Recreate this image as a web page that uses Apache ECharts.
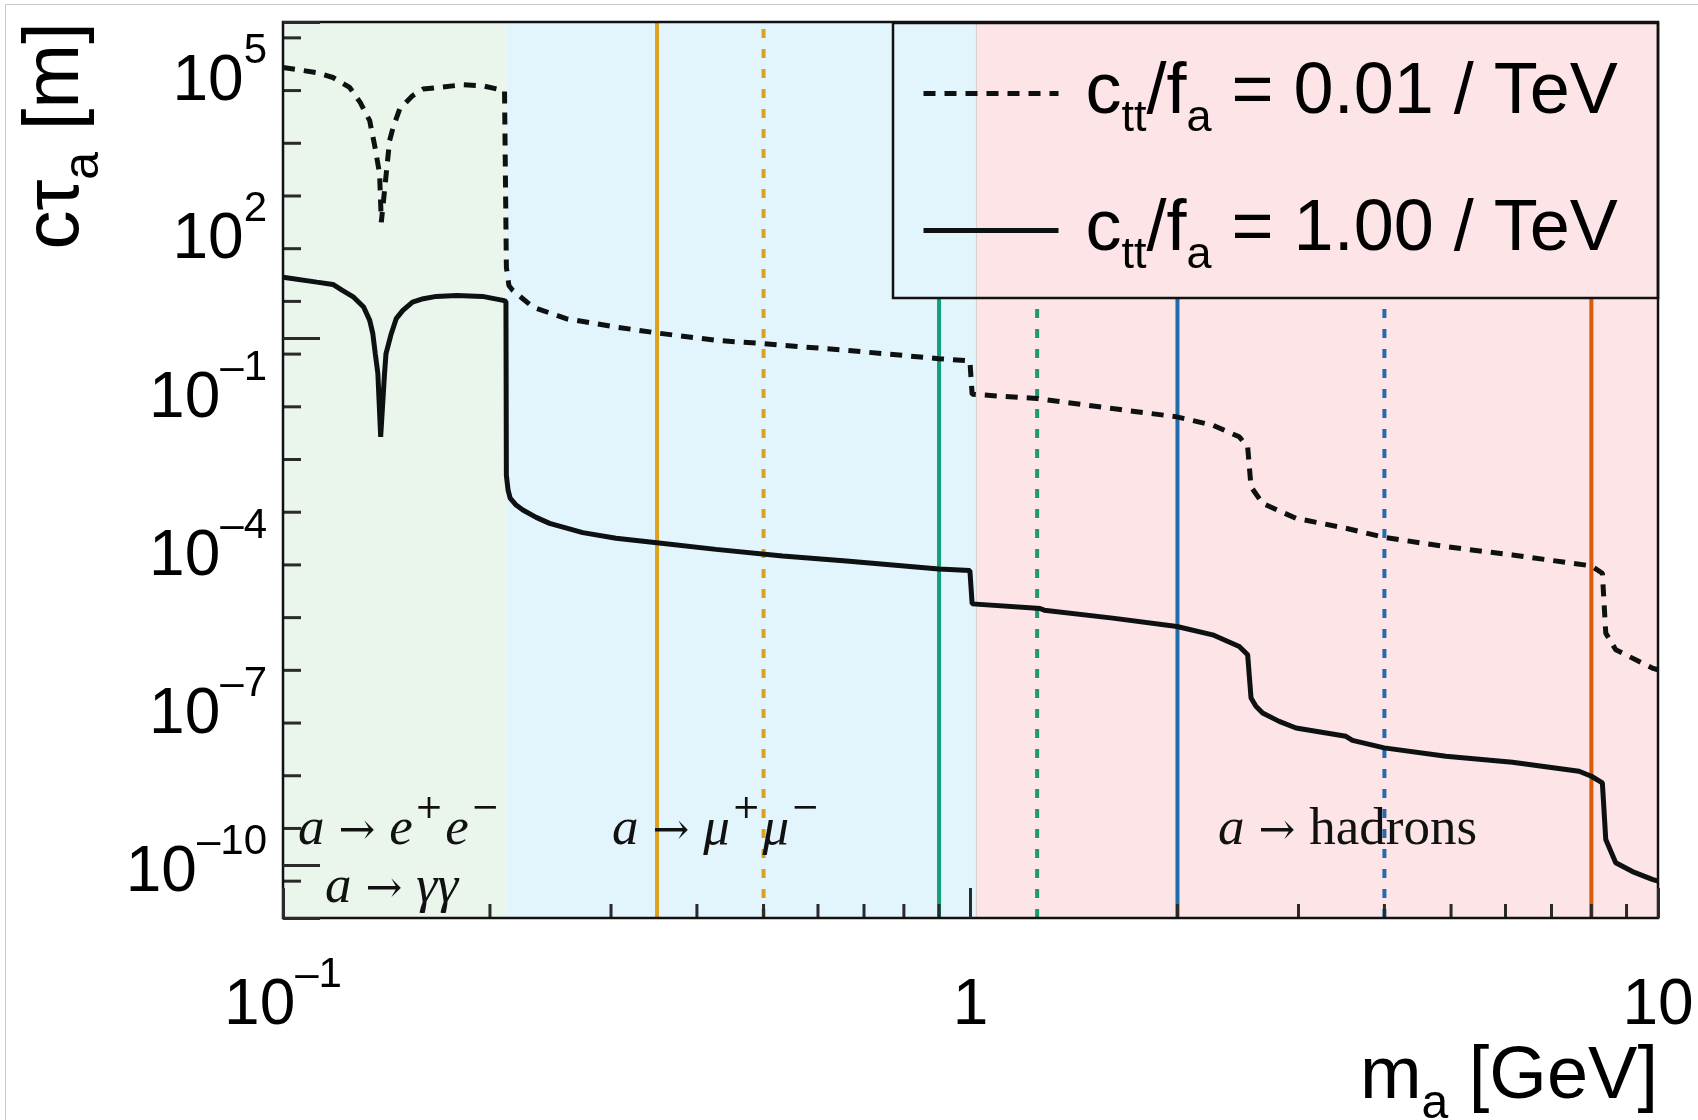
<!DOCTYPE html>
<html>
<head>
<meta charset="utf-8">
<title>Axion-like particle decay length</title>
<script src="https://cdn.jsdelivr.net/npm/echarts@6/dist/echarts.min.js"></script>
<style>
  html, body { margin: 0; padding: 0; background: #fff; }
  #wrap { position: relative; width: 1698px; height: 1120px; }
  #chart { position: absolute; left: 0; top: 0; width: 1698px; height: 1120px; }
  #edge { position: absolute; left: 5px; top: 4px; right: 0; bottom: 0;
          border-left: 1.5px solid #cacaca; border-top: 1.5px solid #cacaca; pointer-events: none; }
</style>
</head>
<body>
<div id="wrap"><div id="chart"></div><div id="edge"></div></div>
<script>
const SANS = "'Liberation Sans', Arial, Helvetica, sans-serif";
const SERIF = "'Liberation Serif', 'DejaVu Serif', serif";

// c*tau_a [m] versus m_a [GeV] for c_tt/f_a = 1.00 / TeV
const massSolid = [0.100, 0.112, 0.1182, 0.122, 0.1267, 0.131, 0.1337, 0.1351, 0.1362, 0.1374, 0.1387,
  0.1405, 0.1412, 0.1437, 0.1461, 0.1494, 0.1543, 0.160, 0.1671, 0.179, 0.195, 0.209, 0.2110,
  0.2113, 0.2125, 0.2140, 0.2183, 0.2233, 0.2335, 0.2442, 0.2729, 0.3051, 0.3497, 0.4264, 0.5329,
  0.6598, 0.8994, 0.998, 1.0055, 1.249, 1.262, 1.280, 1.610, 1.997, 2.250, 2.460, 2.530, 2.559,
  2.601, 2.660, 2.812, 2.975, 3.516, 3.594, 3.997, 4.914, 6.141, 7.677, 8.00, 8.30, 8.395, 8.68,
  9.18, 9.81, 10.0];
const ctauSolid = [14.4, 11.6, 10.5, 8.07, 6.0, 3.90, 2.18, 1.22, 0.513, 0.214, 0.0135,
  0.214, 0.513, 1.22, 2.35, 3.37, 4.85, 5.62, 6.22, 6.50, 6.22, 5.22, 5.0,
  2.5e-3, 1.32e-3, 9.3e-4, 6.84e-4, 5.51e-4, 3.99e-4, 3.07e-4, 2.05e-4, 1.60e-4, 1.32e-4, 9.86e-5, 7.40e-5,
  5.96e-5, 4.20e-5, 3.90e-5, 9.12e-6, 7.57e-6, 7.45e-6, 6.92e-6, 4.89e-6, 3.39e-6, 2.36e-6, 1.42e-6, 9.86e-7, 1.49e-7,
  1.04e-7, 7.74e-8, 5.38e-8, 4.03e-8, 2.80e-8, 2.35e-8, 1.69e-8, 1.17e-8, 9.02e-9, 6.08e-9, 4.89e-9, 3.66e-9, 3.09e-10, 1.12e-10,
  7.6e-11, 5.41e-11, 5.0e-11];

// c*tau_a [m] versus m_a [GeV] for c_tt/f_a = 0.01 / TeV
const massDashed = [0.100, 0.1118, 0.1182, 0.1250, 0.1295, 0.1337, 0.1361, 0.1382, 0.1390, 0.1429,
  0.1446, 0.1478, 0.1543, 0.1598, 0.1826, 0.1953, 0.2100, 0.2111, 0.2113, 0.2131, 0.2159, 0.2309,
  0.2581, 0.3051, 0.3497, 0.4264, 0.4996, 0.5329, 0.6598, 0.8994, 0.998, 1.0055, 1.249, 1.610,
  1.997, 2.250, 2.460, 2.530, 2.559, 2.660, 2.975, 3.516, 3.997, 4.914, 6.141, 8.00, 8.30, 8.395,
  8.68, 9.81, 10.0];
const ctauDashed = [1.37e5, 1.10e5, 8.85e4, 5.73e4, 2.98e4, 1.34e4, 4.18e3, 1.31e3, 159, 5.60e3,
  1.0e4, 2.23e4, 3.98e4, 5.33e4, 6.44e4, 6.17e4, 4.95e4, 4.79e4, 22.4, 10.0, 8.07, 3.90,
  2.35, 1.63, 1.26, 0.912, 0.791, 0.735, 0.590, 0.410, 0.370, 0.0865, 0.0718, 0.0463,
  0.0322, 0.0224, 0.0135, 8.71e-3, 1.52e-3, 7.36e-4, 3.83e-4, 2.48e-4, 1.67e-4, 1.11e-4, 7.73e-5, 4.79e-5, 3.48e-5, 2.54e-6,
  1.23e-6, 5.52e-7, 5.13e-7];

const couplingLabels = ['0.01', '1.00'];

// reference masses shown as vertical lines [GeV]
const thresholdMass = [0.35, 0.5, 0.9, 1.25, 2.0, 4.0, 8.0];
const thresholdUnderLegend = [false, false, true, true, true, true, true];

// decay regimes: a -> e+e-/γγ, a -> μ+μ-, a -> hadrons
const regionEdges = [0.1, 0.2113, 1.02, 10];

const yMin = 1e-11, yMax = 1e6;
const legendBottom = 5.7;
const yLabelValues = [1e5, 1e2, 1e-1, 1e-4, 1e-7, 1e-10];
const yLabelText = ['{b|10}{s|5}', '{b|10}{s|2}', '{b|10}{s|\u20131}', '{b|10}{s|\u20134}',
  '{b|10}{s|\u20137}', '{b|10}{s|\u201310}'];
const yMinorTicks = [5e-11, 5e-10, 5e-9, 5e-8, 5e-7, 5e-6, 5e-5, 5e-4, 5e-3, 5e-2, 5e-1,
  5, 50, 500, 5e3, 5e4, 5e5];
const xMinorTicks = [0.2, 0.3, 0.4, 0.5, 0.6, 0.7, 0.8, 0.9, 2, 3, 4, 5, 6, 7, 8, 9];
const xTickValues = [0.1, 1, 10];
const xTickText = ['{b|10}{s|\u20131}', '{b|1}', '{b|10}'];

// styling
const thresholdColor = ['#DBA21F', '#DBA21F', '#13A07A', '#1A9A6E', '#1F6DAA', '#1F6DAA', '#D95B0B'];
const thresholdDashed = [false, true, false, true, false, true, false];
const regionColors = ['#EAF5EB', '#E3F5FC', '#FCE4E7'];
const INK = '#0d1111';

const chart = echarts.init(document.getElementById('chart'), null, { renderer: 'canvas' });

const tickRich = {
  b: { fontFamily: SANS, fontSize: 64, lineHeight: 64, color: '#000', padding: [20, 0, 0, 0], verticalAlign: 'top' },
  s: { fontFamily: SANS, fontSize: 42, lineHeight: 42, color: '#000', verticalAlign: 'top' }
};
const tickRichFill = {
  b: { fontFamily: SANS, fontSize: 64, lineHeight: 64, fill: '#000', padding: [20, 0, 0, 0], verticalAlign: 'top' },
  s: { fontFamily: SANS, fontSize: 42, lineHeight: 42, fill: '#000', verticalAlign: 'top' }
};

const legendRich = {
  m: { fontFamily: SANS, fontSize: 72, lineHeight: 72, color: '#000', verticalAlign: 'middle' },
  sb: { fontFamily: SANS, fontSize: 45, lineHeight: 45, color: '#000', padding: [50, 0, 0, 0], verticalAlign: 'middle' }
};

const annRich = {
  i: { fontFamily: SERIF, fontStyle: 'italic', fontSize: 53, lineHeight: 53, padding: [11, 0, 0, 0], verticalAlign: 'top', fill: '#111' },
  n: { fontFamily: SERIF, fontSize: 53, lineHeight: 53, padding: [11, 0, 0, 0], verticalAlign: 'top', fill: '#111' },
  r: { fontFamily: "'DejaVu Serif', serif", fontSize: 44, lineHeight: 44, padding: [18, 0, 0, 0], verticalAlign: 'top', fill: '#111' },
  p: { fontFamily: "'DejaVu Serif', serif", fontSize: 34, lineHeight: 34, padding: [0, 2, 0, 2], verticalAlign: 'top', fill: '#111' }
};

const curveNames = couplingLabels.map(v => 'c_tt/f_a = ' + v + ' / TeV');

function toPairs(xs, ys) { return xs.map((x, i) => [x, ys[i]]); }

const series = [];

// shaded decay regimes
series.push({
  type: 'line', name: 'regions', data: [], z: 1, silent: true,
  markArea: {
    silent: true,
    data: regionColors.map((c, i) => [
      { xAxis: regionEdges[i], itemStyle: i === 2 ? { color: c, borderColor: 'rgba(150,150,150,0.35)', borderWidth: 1 } : { color: c } },
      { xAxis: regionEdges[i + 1] }
    ])
  }
});

// vertical reference lines
thresholdMass.forEach((m, i) => {
  series.push({
    type: 'line', name: 'ref' + i, z: 3, silent: true, symbol: 'none',
    data: [[m, yMin], [m, thresholdUnderLegend[i] ? legendBottom : yMax]],
    lineStyle: { color: thresholdColor[i], width: 4, type: thresholdDashed[i] ? [9, 11] : 'solid' }
  });
});

// lifetime curves
series.push({
  type: 'line', name: curveNames[0], z: 5, symbol: 'none', silent: true,
  data: toPairs(massDashed, ctauDashed),
  itemStyle: { color: INK },
  lineStyle: { color: INK, width: 5, type: [12, 9] }
});
series.push({
  type: 'line', name: curveNames[1], z: 5, symbol: 'none', silent: true,
  data: toPairs(massSolid, ctauSolid),
  itemStyle: { color: INK },
  lineStyle: { color: INK, width: 5, type: 'solid' }
});

// minor ticks on the log axes
series.push({
  type: 'custom', name: 'yminor', z: 8, silent: true,
  data: yMinorTicks.map(v => [0.1, v]),
  renderItem: (params, api) => {
    const p = api.coord([api.value(0), api.value(1)]);
    return { type: 'line', shape: { x1: p[0], y1: p[1], x2: p[0] + 18, y2: p[1] },
             style: { stroke: '#2a2a2a', lineWidth: 3 } };
  }
});
series.push({
  type: 'custom', name: 'xminor', z: 8, silent: true,
  data: xMinorTicks.map(v => [v, yMin]),
  renderItem: (params, api) => {
    const p = api.coord([api.value(0), api.value(1)]);
    return { type: 'line', shape: { x1: p[0], y1: p[1], x2: p[0], y2: p[1] - 14 },
             style: { stroke: '#2a2a2a', lineWidth: 3 } };
  }
});

// labelled decades of the lifetime axis
series.push({
  type: 'custom', name: 'ylabels', z: 8, silent: true, clip: false,
  data: yLabelValues.map(v => [0.1, v]),
  renderItem: (params, api) => {
    const p = api.coord([api.value(0), api.value(1)]);
    return { type: 'text', x: p[0] - 16, y: p[1] - 12,
             style: { text: yLabelText[params.dataIndex], rich: tickRichFill, align: 'right', verticalAlign: 'middle' } };
  }
});

const option = {
  animation: false,
  backgroundColor: '#fff',
  grid: { left: 283, right: 40, top: 22, bottom: 202, show: true, z: 10,
          borderColor: '#111', borderWidth: 2.5, backgroundColor: 'transparent' },
  xAxis: {
    type: 'log', logBase: 10, min: 0.1, max: 10, splitNumber: 2, z: 10,
    axisLine: { show: false }, splitLine: { show: false },
    axisTick: { show: true, inside: true, length: 30, lineStyle: { color: '#2a2a2a', width: 3 } },
    axisLabel: {
      margin: 36, showMinLabel: true, showMaxLabel: true, interval: 0, rich: tickRich,
      formatter: v => {
        let best = 0;
        xTickValues.forEach((t, i) => { if (Math.abs(Math.log10(v / t)) < Math.abs(Math.log10(v / xTickValues[best]))) best = i; });
        return xTickText[best];
      }
    }
  },
  yAxis: {
    type: 'log', logBase: 10, min: yMin, max: yMax, splitNumber: 17, z: 10,
    axisLine: { show: false }, splitLine: { show: false },
    axisTick: { show: true, inside: true, length: 37, lineStyle: { color: '#2a2a2a', width: 3 } },
    axisLabel: { show: false }
  },
  legend: {
    data: curveNames, orient: 'vertical', left: 921, top: 46, padding: 0,
    itemWidth: 135, itemHeight: 20, itemGap: 42, selectedMode: false,
    itemStyle: { opacity: 0 },
    lineStyle: { width: 5 },
    textStyle: { rich: legendRich, padding: [0, 0, 0, 22] },
    formatter: name => {
      const v = name.split('= ')[1].replace(' / TeV', '');
      return '{m|c}{sb|tt}{m|/f}{sb|a}{m| = ' + v + ' / TeV}';
    }
  },
  graphic: [
    { type: 'rect', z: 20, silent: true, shape: { x: 893, y: 23, width: 765, height: 275 },
      style: { fill: 'none', stroke: '#111', lineWidth: 2.5 } },
    { type: 'text', z: 20, silent: true, x: 298, y: 819,
      style: { text: '{i|a}{r| \u2192 }{i|e}{p|+}{i|e}{p|\u2212}', rich: annRich, textVerticalAlign: 'middle' } },
    { type: 'text', z: 20, silent: true, x: 325, y: 877,
      style: { text: '{i|a}{r| \u2192 }{i|\u03b3\u03b3}', rich: annRich, textVerticalAlign: 'middle' } },
    { type: 'text', z: 20, silent: true, x: 612, y: 819,
      style: { text: '{i|a}{r| \u2192 }{i|\u03bc}{p|+}{i|\u03bc}{p|\u2212}', rich: annRich, textVerticalAlign: 'middle' } },
    { type: 'text', z: 20, silent: true, x: 1218, y: 819,
      style: { text: '{i|a}{r| \u2192 }{n|hadrons}', rich: annRich, textVerticalAlign: 'middle' } },
    { type: 'text', z: 20, silent: true, x: 1658, y: 1078,
      style: { text: '{m|m}{sb|a}{m| [GeV]}', textAlign: 'right', textVerticalAlign: 'middle',
        rich: {
          m: { fontFamily: SANS, fontSize: 74, lineHeight: 74, fill: '#000', verticalAlign: 'middle' },
          sb: { fontFamily: SANS, fontSize: 48, lineHeight: 48, fill: '#000', padding: [54, 0, 0, 0], verticalAlign: 'middle' }
        } } },
    { type: 'text', z: 20, silent: true, x: 56, y: 22, rotation: Math.PI / 2,
      style: { text: '{m|c\u03c4}{sb|a}{m| [m]}', textAlign: 'right', textVerticalAlign: 'middle',
        rich: {
          m: { fontFamily: SANS, fontSize: 78, lineHeight: 78, fill: '#000', verticalAlign: 'middle' },
          sb: { fontFamily: SANS, fontSize: 50, lineHeight: 50, fill: '#000', padding: [56, 0, 0, 0], verticalAlign: 'middle' }
        } } }
  ],
  series: series
};

chart.setOption(option);
</script>
</body>
</html>
